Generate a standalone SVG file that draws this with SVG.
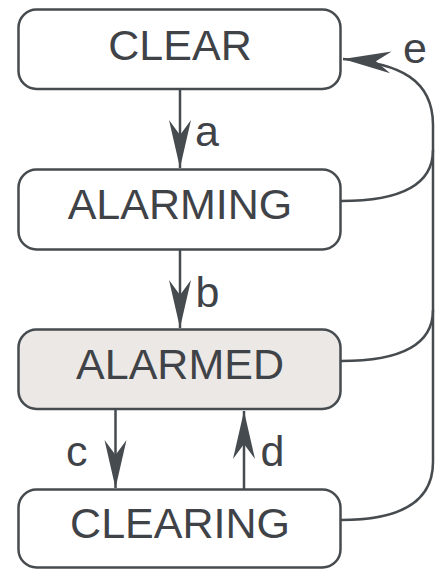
<svg xmlns="http://www.w3.org/2000/svg" width="437" height="569" viewBox="0 0 437 569">
<style>
.box{fill:#ffffff;stroke:#464b4f;stroke-width:2.5}
.hl{fill:#ece8e6}
.t{font-family:"Liberation Sans",Arial,sans-serif;font-size:43px;fill:#3f4347}
.c{text-anchor:middle}
.ln{fill:none;stroke:#464b4f;stroke-width:2.5}
</style>
<defs>
<marker id="ah" markerUnits="userSpaceOnUse" markerWidth="60" markerHeight="30" viewBox="-50 -15 60 30" refX="0" refY="0" orient="auto" overflow="visible">
<path d="M0,0 L-48,-11 L-33,0 L-48,11 Z" fill="#464b4f"/>
</marker>
</defs>
<rect width="437" height="569" fill="#ffffff"/>
<g id="connectors">
<path class="ln" d="M180,89 L180,168" marker-end="url(#ah)"/>
<text class="t" x="195" y="146">a</text>
<path class="ln" d="M180,250 L180,328" marker-end="url(#ah)"/>
<text class="t" x="195.5" y="307">b</text>
<path class="ln" d="M115.5,409 L115.5,488" marker-end="url(#ah)"/>
<text class="t" x="66" y="466">c</text>
<path class="ln" d="M244,489 L244,411" marker-end="url(#ah)"/>
<text class="t" x="260.5" y="466">d</text>
<path class="ln" d="M341,520 C395,520 433,505 433,462 L433,125 C433,80 400,63 343,59" marker-end="url(#ah)"/>
<path class="ln" d="M341,201 C400,201 433,185 433,150"/>
<path class="ln" d="M341,361 C400,361 433,345 433,310"/>
<text class="t" x="403" y="63">e</text>
</g>
<g id="clear">
<rect class="box" x="18.5" y="9.5" width="322" height="79.5" rx="18"/>
<text class="t c" x="180" y="60">CLEAR</text>
</g>
<g id="alarming">
<rect class="box" x="18.5" y="169.5" width="322" height="80" rx="18"/>
<text class="t c" x="180" y="219">ALARMING</text>
</g>
<g id="alarmed">
<rect class="box hl" x="18.5" y="329.5" width="322" height="79.5" rx="18"/>
<text class="t c" x="180" y="379">ALARMED</text>
</g>
<g id="clearing">
<rect class="box" x="18.5" y="489.5" width="322" height="78" rx="18"/>
<text class="t c" x="180" y="538">CLEARING</text>
</g>
</svg>
